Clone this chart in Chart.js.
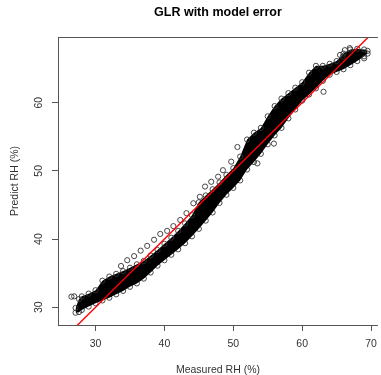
<!DOCTYPE html>
<html>
<head>
<meta charset="utf-8">
<script src="https://cdn.jsdelivr.net/npm/chart.js@4.4.1/dist/chart.umd.min.js"></script>
<style>
  html, body { margin: 0; padding: 0; background: #fff; overflow: hidden; }
  #c { display: block; }
</style>
</head>
<body>
<canvas id="c" width="384" height="375"></canvas>
<script>
// axis ticks
const xTicks = [30, 40, 50, 60, 70];
const yTicks = [30, 40, 50, 60];

// dense band of points: read as upper / lower envelope at each measured value
const bandX      = [27.1, 27.6, 28, 29, 30, 31, 32, 33, 34, 35, 36, 37, 38, 39, 40, 41, 42, 43, 44, 45, 46, 47, 48,
                    49, 50, 51, 52, 53, 54, 55, 56, 57, 58, 59, 60, 61, 62, 63, 64, 65, 66, 67, 68, 69, 69.5];
const bandTop    = [29.9, 31.2, 31.6, 32.0, 32.5, 33.9, 34.5, 34.9, 35.3, 35.8, 36.3, 36.8, 37.6, 38.4, 39.3, 40.2, 41.2, 42.3, 43.5, 45.4, 46.4, 47.3, 48.3,
                    49.4, 50.4, 52.1, 54.6, 55.6, 56.3, 58.0, 59.5, 60.6, 61.4, 62.2, 63.0, 64.4, 65.4, 65.4, 65.7, 66.1, 67.2, 67.8, 67.9, 67.8, 67.6];
const bandBottom = [29.2, 29.3, 29.6, 30.1, 30.6, 31.0, 31.4, 31.9, 32.4, 33.0, 33.5, 34.2, 35.1, 36.1, 36.9, 37.7, 38.5, 39.4, 40.4, 41.5, 42.7, 43.9, 45.3,
                    46.5, 47.5, 48.6, 50.2, 51.3, 52.5, 53.9, 55.2, 56.3, 57.7, 59.0, 60.3, 61.2, 62.1, 63.2, 64.1, 64.5, 64.9, 65.5, 66.1, 66.8, 67.2];

// sparse row of circles above the band
const arcX = [33.7, 34.6, 35.6, 36.55, 37.5, 38.5, 39.4, 40.4, 41.3, 42.3, 43.2, 44.2, 45.15, 45.9, 46.8, 47.8, 48.5, 49.7, 50.6];
const arcY = [36.05, 36.9, 37.5, 38.3, 39.0, 39.9, 40.75, 41.2, 41.9, 42.8, 43.8, 45.25, 46.2, 47.7, 48.4, 49.15, 50.1, 51.35, 53.5];

// loose single points
const looseX = [26.5, 26.9, 53.5, 55.9, 63.1, 65.5, 65.9, 66.2, 66.9, 69.0];
const looseY = [31.55, 31.6, 51.1, 54.0, 61.6, 67.0, 66.75, 67.7, 68.0, 66.5];

// 1:1 reference line
const lineX = [20, 80];
const lineY = [20, 80];

const pts = (xs, ys) => xs.map((x, i) => ({x: x, y: ys[i]}));

const circle = {
    pointRadius: 2.6,
    pointHoverRadius: 2.6,
    pointBorderWidth: 0.9,
    pointBorderColor: '#333',
    pointBackgroundColor: 'rgba(0,0,0,0)'
};

const topBorder = {
    id: 'topBorder',
    afterDraw(chart) {
        const {ctx, chartArea: a} = chart;
        const y = Math.round(a.top - 0.5) + 0.5;
        ctx.save();
        ctx.strokeStyle = '#555';
        ctx.lineWidth = 1;
        ctx.beginPath();
        ctx.moveTo(a.left, y);
        ctx.lineTo(a.right, y);
        ctx.stroke();
        ctx.restore();
    }
};

const tickFont = {family: 'Liberation Sans, Arial, sans-serif', size: 10.5};

new Chart(document.getElementById('c'), {
    type: 'scatter',
    data: {
        datasets: [{
            type: 'line',
            data: pts(lineX, lineY),
            borderColor: '#ff0000',
            borderWidth: 1.4,
            pointRadius: 0,
            fill: false,
            order: 0
        }, {
            type: 'line',
            data: pts(bandX, bandTop),
            borderWidth: 0,
            backgroundColor: '#000',
            fill: 2,
            order: 2,
            ...circle
        }, {
            type: 'line',
            data: pts(bandX, bandBottom),
            borderWidth: 0,
            fill: false,
            order: 2,
            ...circle
        }, {
            data: pts(arcX, arcY),
            order: 1,
            ...circle
        }, {
            data: pts(looseX, looseY),
            order: 1,
            ...circle
        }]
    },
    options: {
        responsive: false,
        devicePixelRatio: 1,
        animation: false,
        layout: {padding: {left: 0, right: 2, top: 0, bottom: 0}},
        plugins: {
            legend: {display: false},
            tooltip: {enabled: false},
            title: {
                display: true,
                text: 'GLR with model error',
                fullSize: false,
                color: '#000',
                font: {family: 'Liberation Sans, Arial, sans-serif', size: 12.5, weight: 'bold', lineHeight: 1.2},
                padding: {top: 5, bottom: 17}
            }
        },
        scales: {
            x: {
                type: 'linear',
                min: 24.55,
                max: 71,
                afterBuildTicks: s => { s.ticks = xTicks.map(v => ({value: v})); },
                afterFit: s => { s.height = 50; },
                grid: {drawOnChartArea: false, drawTicks: true, tickLength: 6, tickColor: '#555', lineWidth: 1},
                border: {display: true, color: '#555', width: 1},
                ticks: {color: '#333', font: tickFont, padding: 7, maxRotation: 0},
                title: {
                    display: true,
                    text: 'Measured RH (%)',
                    color: '#333',
                    font: {family: 'Liberation Sans, Arial, sans-serif', size: 10.5, lineHeight: 1},
                    padding: {top: 0, bottom: 0}
                }
            },
            y: {
                type: 'linear',
                min: 27.4,
                max: 69.63,
                afterBuildTicks: s => { s.ticks = yTicks.map(v => ({value: v})); },
                afterFit: s => { s.width = 58; },
                grid: {drawOnChartArea: false, drawTicks: true, tickLength: 6, tickColor: '#555', lineWidth: 1},
                border: {display: true, color: '#555', width: 1},
                ticks: {color: '#333', font: tickFont, padding: 7, minRotation: 90, maxRotation: 90, crossAlign: 'center'},
                title: {
                    display: true,
                    text: 'Predict RH (%)',
                    color: '#333',
                    font: {family: 'Liberation Sans, Arial, sans-serif', size: 10.5, lineHeight: 1.2},
                    padding: {top: 9, bottom: 0}
                }
            }
        }
    },
    plugins: [topBorder]
});
</script>
</body>
</html>
